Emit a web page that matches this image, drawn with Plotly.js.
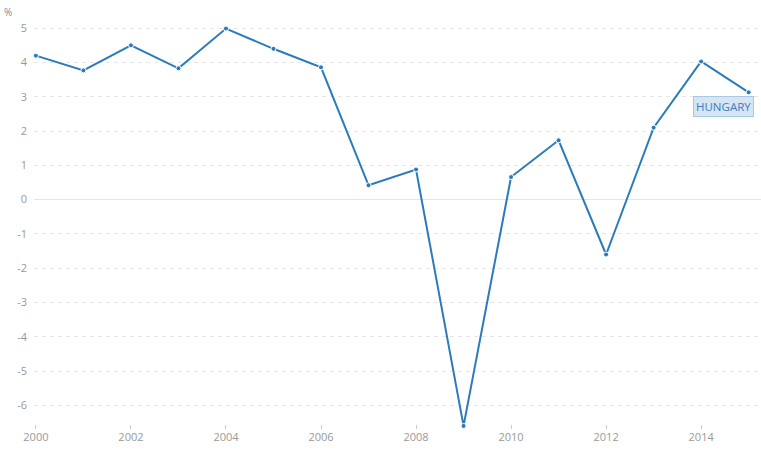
<!DOCTYPE html>
<html>
<head>
<meta charset="utf-8">
<script src="https://cdn.plot.ly/plotly-3.0.1.min.js"></script>
<style>html,body{margin:0;padding:0;background:#fff;}#chart{width:761px;height:453px;}</style>
</head>
<body>
<div id="chart"></div>
<script>
const years = [2000,2001,2002,2003,2004,2005,2006,2007,2008,2009,2010,2011,2012,2013,2014,2015];
const growth = [4.2,3.77,4.5,3.83,4.99,4.4,3.86,0.42,0.88,-6.6,0.66,1.73,-1.6,2.1,4.03,3.13];
const seriesName = "HUNGARY";
const yTicks = [-6,-5,-4,-3,-2,-1,0,1,2,3,4,5];
const xTicks = [2000,2002,2004,2006,2008,2010,2012,2014];

const lineColor = "#2b7bba";
const trace = {
  x: years, y: growth, type: "scatter", mode: "lines+markers",
  name: seriesName,
  line: {color: lineColor, width: 2},
  marker: {color: lineColor, size: 5, line: {color: "#ffffff", width: 1}},
  cliponaxis: false,
  hoverinfo: "x+y"
};
const layout = {
  width: 761, height: 453,
  margin: {l: 34, r: 0, t: 20, b: 24},
  paper_bgcolor: "#ffffff", plot_bgcolor: "#ffffff",
  showlegend: false,
  font: {family: "Open Sans, sans-serif", size: 11, color: "#999999"},
  xaxis: {
    range: [1999.96, 2015.26], tickvals: xTicks, ticktext: xTicks.map(String),
    showgrid: false, zeroline: false, showline: false,
    ticks: "inside", ticklen: 4, tickcolor: "#cccccc", tickwidth: 1,
    tickfont: {family: "Open Sans, sans-serif", size: 11, color: "#999999"}
  },
  yaxis: {
    range: [-6.69, 5.24], tickvals: yTicks, ticktext: yTicks.map(String),
    showgrid: true, gridcolor: "#e6e6e6", griddash: "4px,4px", gridwidth: 1,
    zeroline: true, zerolinecolor: "#dfe6ea", zerolinewidth: 1,
    showline: false, ticks: "", ticklabelstandoff: 6,
    tickfont: {family: "Open Sans, sans-serif", size: 11, color: "#999999"}
  },
  annotations: [
    {xref: "paper", yref: "paper", x: -0.036, y: 1.02, xanchor: "center", yanchor: "middle",
     text: "%", showarrow: false, font: {size: 10, color: "#888888"}},
    {x: years[years.length-1], y: growth[growth.length-1], xref: "x", yref: "y",
     xanchor: "right", yanchor: "top", xshift: 5, yshift: -4,
     text: seriesName, showarrow: false,
     font: {family: "Open Sans, sans-serif", size: 11.5, color: "#3d7ebd"},
     bgcolor: "#d5e5f3", bordercolor: "#a8c8e6", borderwidth: 1, borderpad: 2}
  ]
};
Plotly.newPlot("chart", [trace], layout, {displayModeBar: false, staticPlot: true});
</script>
</body>
</html>
